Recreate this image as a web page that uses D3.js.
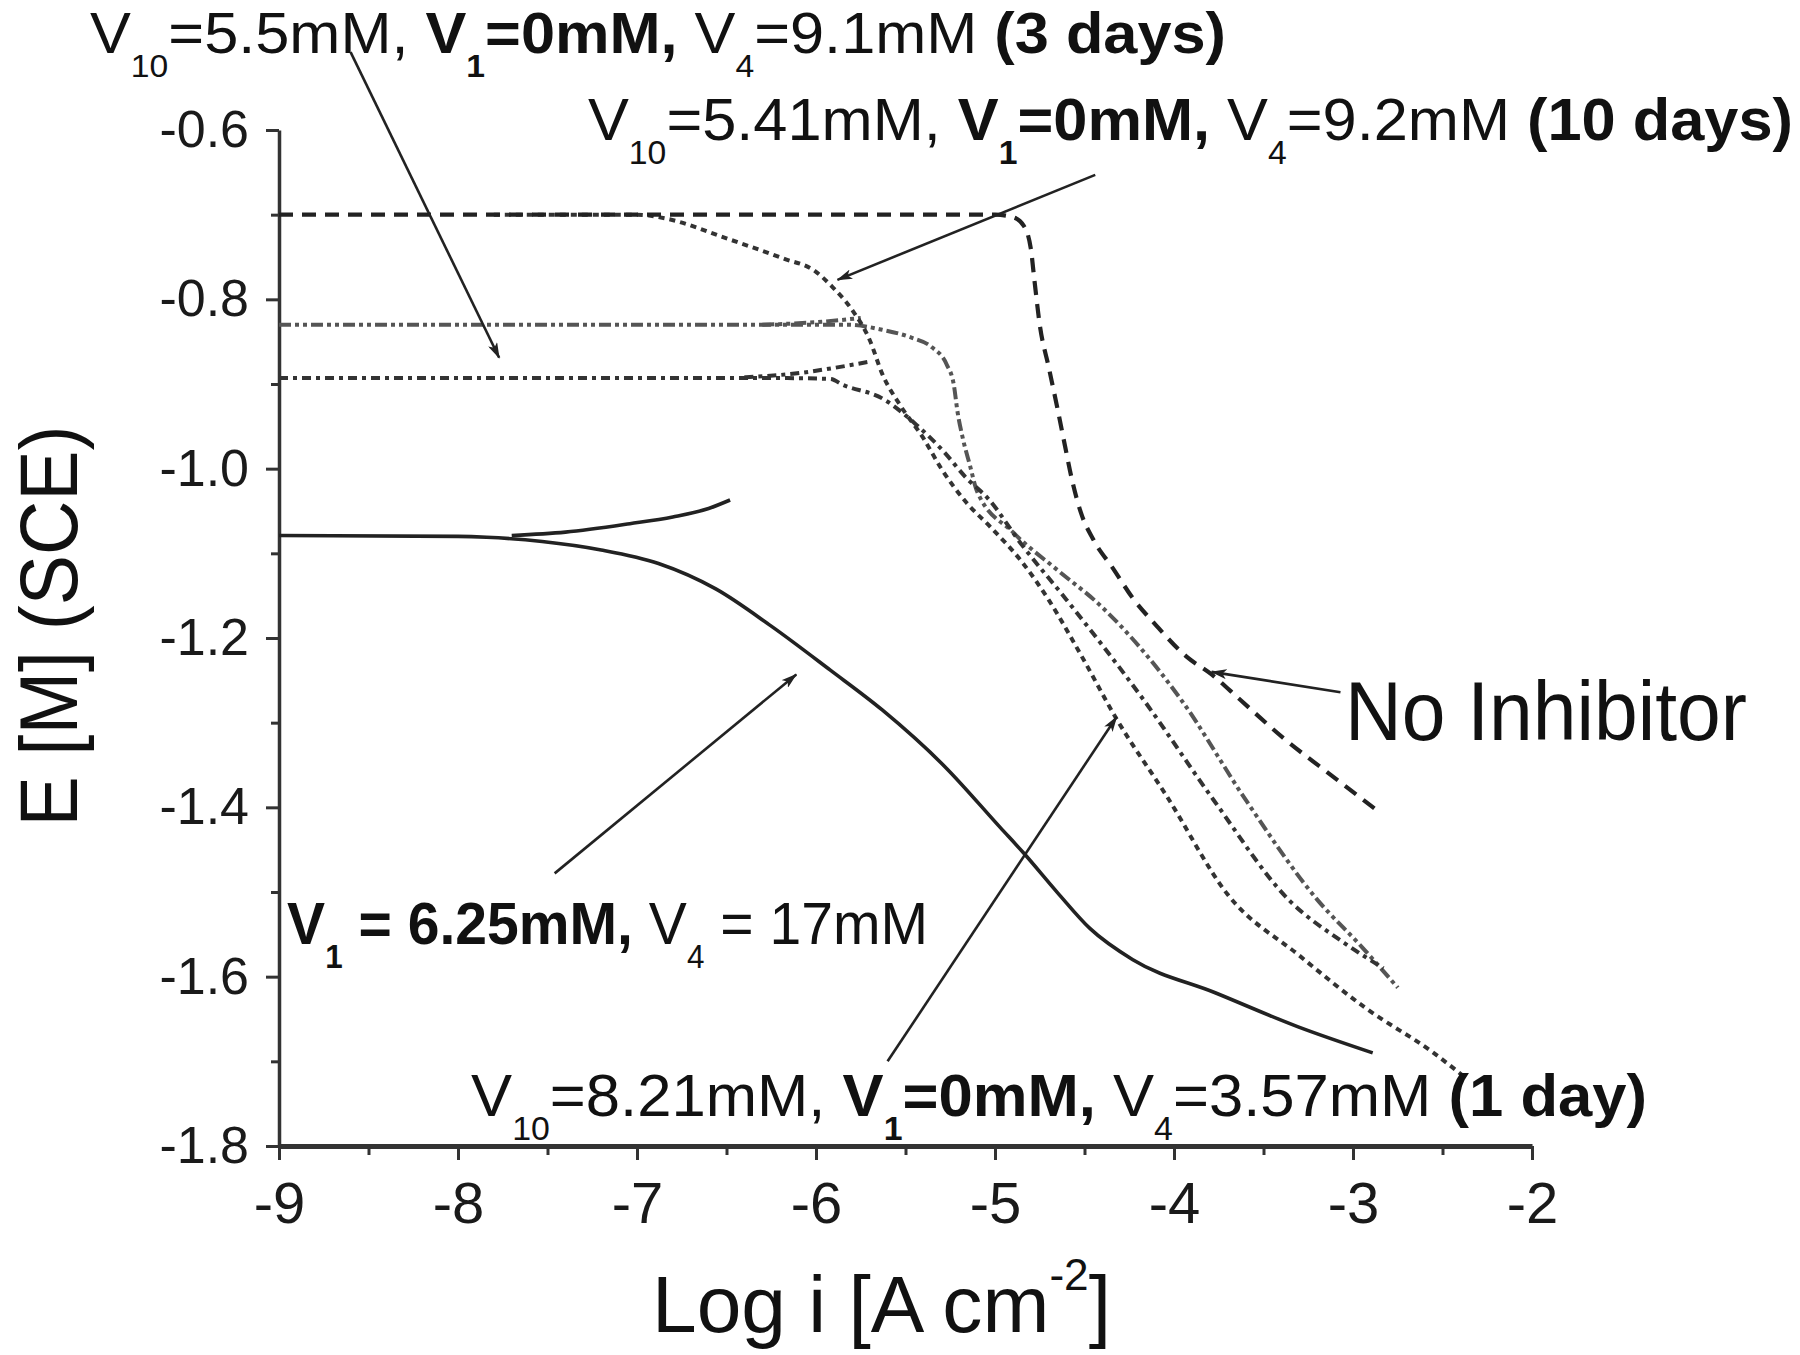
<!DOCTYPE html>
<html><head><meta charset="utf-8">
<script src="https://cdn.jsdelivr.net/npm/d3@7"></script>
<style>
html,body{margin:0;padding:0;background:#fff;}
svg{display:block;font-family:"Liberation Sans",Arial,Helvetica,sans-serif;}
text{white-space:pre;}
</style></head><body>
<svg id="chart" width="1800" height="1355"></svg>
<script>
// ---------- axis ticks ----------
const xTicks = [-9,-8,-7,-6,-5,-4,-3,-2];
const xTickLabels = ["-9","-8","-7","-6","-5","-4","-3","-2"];
const xMinorTicks = [-8.5,-7.5,-6.5,-5.5,-4.5,-3.5,-2.5];
const yTicks = [-0.6,-0.8,-1.0,-1.2,-1.4,-1.6,-1.8];
const yTickLabels = ["-0.6","-0.8","-1.0","-1.2","-1.4","-1.6","-1.8"];
const yMinorTicks = [-0.7,-0.9,-1.1,-1.3,-1.5,-1.7];

// ---------- series (log i, E) ----------
const noInhibitor = [[-9,-0.700],[-5.0,-0.700],[-4.90,-0.703],[-4.84,-0.713],[-4.80,-0.740],[-4.78,-0.777],[-4.75,-0.830],[-4.70,-0.880],[-4.65,-0.930],[-4.61,-0.972],[-4.57,-1.013],[-4.52,-1.052],[-4.45,-1.084],[-4.34,-1.118],[-4.23,-1.153],[-4.10,-1.185],[-3.93,-1.222],[-3.79,-1.243],[-3.63,-1.273],[-3.39,-1.318],[-3.11,-1.364],[-2.87,-1.403]];
const tenDays = [[-7.8,-0.700],[-7.0,-0.700],[-6.83,-0.705],[-6.50,-0.728],[-6.18,-0.752],[-6.01,-0.766],[-5.91,-0.785],[-5.80,-0.812],[-5.70,-0.848],[-5.63,-0.888],[-5.53,-0.925],[-5.40,-0.964],[-5.30,-1.000],[-5.16,-1.040],[-5.03,-1.068],[-4.85,-1.110],[-4.70,-1.155],[-4.52,-1.220],[-4.32,-1.296],[-4.04,-1.387],[-3.70,-1.503],[-3.30,-1.575],[-2.93,-1.637],[-2.55,-1.690],[-2.38,-1.718]];
const threeDaysLower = [[-9,-0.893],[-6.2,-0.893],[-5.92,-0.894],[-5.85,-0.901],[-5.63,-0.917],[-5.44,-0.948],[-5.29,-0.979],[-5.16,-1.011],[-5.04,-1.035],[-4.85,-1.090],[-4.60,-1.155],[-4.17,-1.273],[-3.78,-1.391],[-3.36,-1.509],[-3.05,-1.560],[-2.83,-1.590]];
const threeDaysUpper = [[-6.4,-0.892],[-6.09,-0.887],[-5.90,-0.881],[-5.71,-0.874]];
const oneDayLower = [[-9,-0.830],[-5.82,-0.830],[-5.63,-0.836],[-5.47,-0.845],[-5.35,-0.857],[-5.27,-0.877],[-5.23,-0.901],[-5.21,-0.932],[-5.18,-0.964],[-5.14,-0.996],[-5.10,-1.027],[-4.90,-1.075],[-4.65,-1.120],[-4.42,-1.160],[-3.96,-1.273],[-3.60,-1.391],[-3.20,-1.509],[-2.95,-1.565],[-2.75,-1.613]];
const oneDayUpper = [[-6.3,-0.830],[-6.0,-0.827],[-5.75,-0.822]];
const v1Lower = [[-9,-1.079],[-8.0,-1.080],[-7.84,-1.081],[-7.53,-1.086],[-7.20,-1.096],[-6.88,-1.112],[-6.56,-1.142],[-6.25,-1.186],[-5.92,-1.238],[-5.63,-1.285],[-5.28,-1.352],[-4.97,-1.424],[-4.84,-1.454],[-4.65,-1.501],[-4.47,-1.543],[-4.23,-1.580],[-3.77,-1.619],[-3.31,-1.659],[-2.89,-1.690]];
const v1Upper = [[-7.7,-1.079],[-7.40,-1.075],[-7.04,-1.065],[-6.80,-1.057],[-6.60,-1.047],[-6.48,-1.037]];

// ---------- annotations (data coordinates) ----------
const arrowFrom = [[-8.60,-0.508],[-4.44,-0.653],[-3.07,-1.264],[-7.46,-1.478],[-5.60,-1.700]];
const arrowTo   = [[-7.77,-0.869],[-5.88,-0.777],[-3.79,-1.240],[-6.11,-1.243],[-4.32,-1.293]];

const label3d  = [{t:"V"},{t:"10",sub:1},{t:"=5.5mM, "},{t:"V",b:1},{t:"1",b:1,sub:1},{t:"=0mM,",b:1},{t:" V"},{t:"4",sub:1},{t:"=9.1mM "},{t:"(3 days)",b:1}];
const label10d = [{t:"V"},{t:"10",sub:1},{t:"=5.41mM, "},{t:"V",b:1},{t:"1",b:1,sub:1},{t:"=0mM,",b:1},{t:" V"},{t:"4",sub:1},{t:"=9.2mM "},{t:"(10 days)",b:1}];
const labelNI  = [{t:"No Inhibitor"}];
const labelV1  = [{t:"V",b:1},{t:"1",b:1,sub:1},{t:" = 6.25mM,",b:1},{t:" V"},{t:"4",sub:1},{t:" = 17mM"}];
const label1d  = [{t:"V"},{t:"10",sub:1},{t:"=8.21mM, "},{t:"V",b:1},{t:"1",b:1,sub:1},{t:"=0mM,",b:1},{t:" V"},{t:"4",sub:1},{t:"=3.57mM "},{t:"(1 day)",b:1}];
const labelPos = [[-10.056,-0.5095],[-7.274,-0.612],[-3.045,-1.320],[-8.955,-1.561],[-7.927,-1.765]];
const labelLen = [1136,1205,402,641,1176];
const labelSize = [58,60,84,60,60];
const xTitle = [{t:"Log i [A cm"},{t:"-2",sup:1},{t:"]"}];
const yTitle = "E [M] (SCE)";

// ---------- drawing ----------
const svg = d3.select("#chart");
const x = d3.scaleLinear().domain([-9,-2]).range([279,1532]);
const y = d3.scaleLinear().domain([-1.8,-0.6]).range([1146,130]);

svg.append("rect").attr("width",1800).attr("height",1355).attr("fill","#fff");

const defs = svg.append("defs");
defs.append("marker").attr("id","ah").attr("viewBox","0 0 16 10").attr("refX",15).attr("refY",5)
  .attr("markerWidth",16).attr("markerHeight",10).attr("markerUnits","userSpaceOnUse").attr("orient","auto")
  .append("path").attr("d","M0,0 L16,5 L0,10 L4,5 Z").attr("fill","#222");

// axes
const gx = svg.append("g").attr("transform",`translate(0,${y(-1.8)})`)
  .call(d3.axisBottom(x).tickValues(xTicks).tickFormat((d,i)=>xTickLabels[i]).tickSize(14).tickPadding(22).tickSizeOuter(0));
gx.select(".domain").attr("stroke","#333").attr("stroke-width",5);
gx.selectAll(".tick line").attr("stroke","#333").attr("stroke-width",3);
gx.selectAll("text").attr("font-size",58).attr("fill","#1a1a1a").attr("font-family","Liberation Sans, Arial, sans-serif");
const gxm = svg.append("g").attr("transform",`translate(0,${y(-1.8)})`)
  .call(d3.axisBottom(x).tickValues(xMinorTicks).tickFormat("").tickSize(9).tickSizeOuter(0));
gxm.select(".domain").remove();
gxm.selectAll(".tick line").attr("stroke","#333").attr("stroke-width",3);

const gy = svg.append("g").attr("transform",`translate(${x(-9)},0)`)
  .call(d3.axisLeft(y).tickValues(yTicks).tickFormat((d,i)=>yTickLabels[i]).tickSize(13).tickPadding(17).tickSizeOuter(0));
gy.select(".domain").attr("stroke","#333").attr("stroke-width",3.5);
gy.selectAll(".tick line").attr("stroke","#333").attr("stroke-width",3);
gy.selectAll("text").attr("font-size",52).attr("fill","#1a1a1a").attr("font-family","Liberation Sans, Arial, sans-serif");
const gym = svg.append("g").attr("transform",`translate(${x(-9)},0)`)
  .call(d3.axisLeft(y).tickValues(yMinorTicks).tickFormat("").tickSize(8).tickSizeOuter(0));
gym.select(".domain").remove();
gym.selectAll(".tick line").attr("stroke","#333").attr("stroke-width",3);

// curves
const line = d3.line().x(d=>x(d[0])).y(d=>y(d[1])).curve(d3.curveMonotoneX);
const series = [
  {d:oneDayLower, c:"#555", w:4, dash:"12,4,4,4,4,4"},
  {d:oneDayUpper, c:"#555", w:4, dash:"12,4,4,4,4,4"},
  {d:threeDaysLower, c:"#333", w:4, dash:"9,5,4,5"},
  {d:threeDaysUpper, c:"#333", w:4, dash:"9,5,4,5"},
  {d:tenDays, c:"#333", w:4, dash:"6,5"},
  {d:noInhibitor, c:"#222", w:4.2, dash:"14,9"},
  {d:v1Lower, c:"#222", w:3.6, dash:null},
  {d:v1Upper, c:"#222", w:3.6, dash:null}
];
svg.append("g").selectAll("path").data(series).join("path")
  .attr("d",s=>line(s.d)).attr("fill","none").attr("stroke",s=>s.c).attr("stroke-width",s=>s.w)
  .attr("stroke-dasharray",s=>s.dash).attr("stroke-linecap","butt");

// arrows
svg.append("g").selectAll("line").data(arrowFrom).join("line")
  .attr("x1",d=>x(d[0])).attr("y1",d=>y(d[1]))
  .attr("x2",(d,i)=>x(arrowTo[i][0])).attr("y2",(d,i)=>y(arrowTo[i][1]))
  .attr("stroke","#222").attr("stroke-width",2.6).attr("marker-end","url(#ah)");

// labels
function addLabel(parts, pos, size, len){
  const t = svg.append("text").attr("x",x(pos[0])).attr("y",y(pos[1])).attr("font-size",size).attr("fill","#111");
  let shift = 0;
  parts.forEach(p=>{
    const ts = t.append("tspan").text(p.t);
    if(p.b) ts.attr("font-weight","bold");
    const target = p.sub ? size*0.40 : (p.sup ? -size*0.52 : 0);
    if(target!==shift){ ts.attr("dy", target-shift); shift = target; }
    if(p.sub||p.sup) ts.attr("font-size", size*0.55);
  });
  if(len) t.attr("textLength",len).attr("lengthAdjust","spacingAndGlyphs");
  return t;
}
[label3d,label10d,labelNI,labelV1,label1d].forEach((p,i)=>addLabel(p,labelPos[i],labelSize[i],labelLen[i]));

// axis titles
addLabel(xTitle,[-9+(652-279)/179, -0.6-(1332-130)/846.7],80,459);
svg.append("text").attr("transform","translate(77,626) rotate(-90)").attr("text-anchor","middle")
  .attr("font-size",82).attr("fill","#111").attr("textLength",401).attr("lengthAdjust","spacingAndGlyphs").text(yTitle);
</script>
</body></html>
